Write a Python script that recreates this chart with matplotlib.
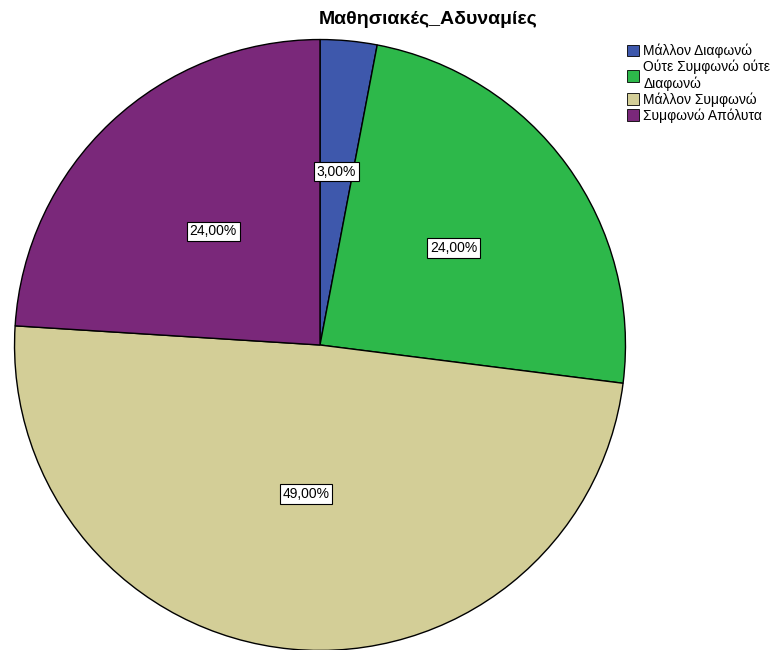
import numpy as np
import matplotlib.pyplot as plt
from matplotlib.patches import Patch

categories = ['Μάλλον Διαφωνώ', 'Ούτε Συμφωνώ ούτε\nΔιαφωνώ',
              'Μάλλον Συμφωνώ', 'Συμφωνώ Απόλυτα']
percentages = [3.0, 24.0, 49.0, 24.0]
colors = ['#3e58ac', '#2db84a', '#d3ce97', '#7a287a']
label_dist = [0.57, 0.54, 0.49, 0.51]

plt.rcParams['font.family'] = ['Liberation Sans', 'DejaVu Sans']

fig = plt.figure(figsize=(7.79, 6.5), dpi=100)
fig.patch.set_facecolor('white')

# square axes holding the pie, bottom slightly below the figure edge
ax = fig.add_axes([13 / 779, -2 / 650, 614 / 779, 614 / 650])
wedges, texts, autotexts = ax.pie(
    percentages, colors=colors, startangle=90, counterclock=False,
    autopct=lambda p: f'{p:.2f}'.replace('.', ',') + '%',
    pctdistance=0.52,
    wedgeprops=dict(edgecolor='black', linewidth=1.0),
)
for w, t, d in zip(wedges, autotexts, label_dist):
    ang = np.deg2rad((w.theta1 + w.theta2) / 2)
    t.set_position((d * np.cos(ang), d * np.sin(ang)))
    t.set_fontsize(10)
    t.set_bbox(dict(facecolor='white', edgecolor='black', linewidth=0.8, pad=2))
ax.set_xlim(-1.005, 1.005)
ax.set_ylim(-1.005, 1.005)
ax.set_aspect('equal')
ax.axis('off')

fig.text(428 / 779, 1 - 20 / 650, 'Μαθησιακές_Αδυναμίες', ha='center',
         va='center', fontsize=14, fontweight='bold')

handles = [Patch(facecolor=c, edgecolor='black', linewidth=0.6) for c in colors]
fig.legend(handles, categories, loc='upper left',
           bbox_to_anchor=(617 / 779, 1 - 34 / 650), frameon=False,
           fontsize=10, handlelength=0.9, handleheight=0.9,
           handletextpad=0.3, labelspacing=0.1, borderpad=0.2)

fig.savefig('out.png', dpi=100)
